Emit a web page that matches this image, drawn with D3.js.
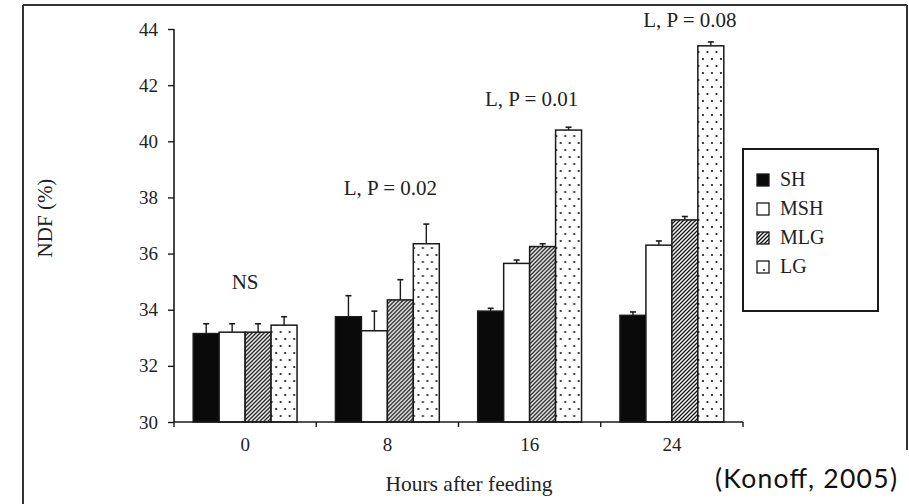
<!DOCTYPE html>
<html>
<head>
<meta charset="utf-8">
<script src="https://cdn.jsdelivr.net/npm/d3@7"></script>
<style>
  html, body { margin: 0; padding: 0; background: #fff; }
  svg { display: block; }
</style>
</head>
<body>
<svg id="chart" width="909" height="504"></svg>
<script>
// ---- data ----
const hours = ["0", "8", "16", "24"];
const series = ["SH", "MSH", "MLG", "LG"];
const SH  = [33.15, 33.75, 33.95, 33.8];
const MSH = [33.2, 33.25, 35.65, 36.3];
const MLG = [33.2, 34.35, 36.25, 37.2];
const LG  = [33.45, 36.35, 40.4, 43.4];
const SH_se  = [0.35, 0.75, 0.1, 0.12];
const MSH_se = [0.3, 0.7, 0.12, 0.15];
const MLG_se = [0.3, 0.72, 0.1, 0.12];
const LG_se  = [0.3, 0.7, 0.1, 0.14];
const yTicks = [30, 32, 34, 36, 38, 40, 42, 44];
const notes = ["NS", "L, P = 0.02", "L, P = 0.01", "L, P = 0.08"];
const noteLevel = [34.74, 38.09, 41.26, 44.07];
const yLabel = "NDF (%)";
const xLabel = "Hours after feeding";
const citation = "(Konoff, 2005)";

const values = { SH, MSH, MLG, LG };
const errs = { SH: SH_se, MSH: MSH_se, MLG: MLG_se, LG: LG_se };

// ---- layout ----
const svg = d3.select("#chart");
const serif = "'Liberation Serif', 'Times New Roman', serif";
const ink = "#1a1a1a";

const x0 = d3.scaleBand().domain(hours).range([174, 743]).paddingInner(0.27).paddingOuter(0.135);
const x1 = d3.scaleBand().domain(series).range([0, x0.bandwidth()]).padding(0);
const y = d3.scaleLinear().domain([30, 44]).range([422, 29]);

// patterns
const defs = svg.append("defs");
const hatch = defs.append("pattern").attr("id", "hatch").attr("patternUnits", "userSpaceOnUse")
  .attr("width", 4).attr("height", 4);
hatch.append("rect").attr("width", 4).attr("height", 4).attr("fill", "#fff");
hatch.append("path").attr("d", "M-1,1 l2,-2 M0,4 l4,-4 M3,5 l2,-2")
  .attr("stroke", "#111").attr("stroke-width", 1.3);

const dots = defs.append("pattern").attr("id", "dots").attr("patternUnits", "userSpaceOnUse")
  .attr("width", 9).attr("height", 14);
dots.append("rect").attr("width", 9).attr("height", 14).attr("fill", "#fff");
dots.append("circle").attr("cx", 2).attr("cy", 3).attr("r", 1.1).attr("fill", "#111");
dots.append("circle").attr("cx", 6.5).attr("cy", 10).attr("r", 1.1).attr("fill", "#111");

const fills = { SH: "#0a0a0a", MSH: "#fff", MLG: "url(#hatch)", LG: "url(#dots)" };

// outer frame
svg.append("line").attr("x1", 23).attr("x2", 907).attr("y1", 5).attr("y2", 5).attr("stroke", "#333").attr("stroke-width", 2);
svg.append("line").attr("x1", 23).attr("x2", 23).attr("y1", 5).attr("y2", 504).attr("stroke", "#333").attr("stroke-width", 2);
svg.append("line").attr("x1", 907).attr("x2", 907).attr("y1", 5).attr("y2", 450).attr("stroke", "#333").attr("stroke-width", 2);

// bars
const groups = svg.append("g").selectAll("g").data(hours).join("g")
  .attr("transform", d => `translate(${x0(d)},0)`);

groups.each(function(h, i) {
  const g = d3.select(this);
  series.forEach(s => {
    const v = values[s][i];
    const e = errs[s][i];
    const bx = x1(s);
    const cx = bx + x1.bandwidth() / 2;
    g.append("line").attr("x1", cx).attr("x2", cx).attr("y1", y(v)).attr("y2", y(v + e))
      .attr("stroke", ink).attr("stroke-width", 1.4);
    g.append("line").attr("x1", cx - 3).attr("x2", cx + 3).attr("y1", y(v + e)).attr("y2", y(v + e))
      .attr("stroke", ink).attr("stroke-width", 1.6);
    g.append("rect").attr("x", bx).attr("y", y(v)).attr("width", x1.bandwidth()).attr("height", y(30) - y(v))
      .attr("fill", fills[s]).attr("stroke", ink).attr("stroke-width", 1.5);
  });
});

// y axis
const yAxis = svg.append("g").attr("transform", "translate(174,0)")
  .call(d3.axisLeft(y).tickValues(yTicks).tickSize(6).tickPadding(10).tickFormat(d3.format("d")));
yAxis.select(".domain").attr("stroke", ink).attr("stroke-width", 1.6).attr("d", `M0,${y(44)}V${y(30)}`);
yAxis.selectAll(".tick line").attr("stroke", ink).attr("stroke-width", 1.4);
yAxis.selectAll(".tick text").attr("font-family", serif).attr("font-size", 19).attr("fill", "#222");

// x axis
const xAxis = svg.append("g").attr("transform", `translate(0,${y(30)})`)
  .call(d3.axisBottom(x0).tickSize(0).tickPadding(16));
xAxis.select(".domain").attr("stroke", ink).attr("stroke-width", 1.6).attr("d", `M174,0H743`);
xAxis.selectAll(".tick text").attr("font-family", serif).attr("font-size", 19).attr("fill", "#222");
const halfGap = x0.step() * x0.paddingInner() / 2;
const bounds = hours.map(h => x0(h) - halfGap).concat([743]);
xAxis.selectAll("line.bound").data(bounds).join("line").attr("class", "bound")
  .attr("x1", d => d).attr("x2", d => d).attr("y1", 0).attr("y2", 5)
  .attr("stroke", ink).attr("stroke-width", 1.4);

// annotations
const noteDx = [0, 3, 2, 18];
svg.append("g").selectAll("text").data(notes).join("text")
  .attr("x", (d, i) => x0(hours[i]) + x0.bandwidth() / 2 + noteDx[i])
  .attr("y", (d, i) => y(noteLevel[i]))
  .attr("text-anchor", "middle").attr("font-family", serif).attr("font-size", 21).attr("fill", "#222")
  .text(d => d);

// axis titles
svg.append("text").attr("transform", "translate(52,218) rotate(-90)")
  .attr("text-anchor", "middle").attr("font-family", serif).attr("font-size", 21).attr("fill", "#222")
  .text(yLabel);
svg.append("text").attr("x", 469).attr("y", 491)
  .attr("text-anchor", "middle").attr("font-family", serif).attr("font-size", 21.5).attr("fill", "#222")
  .text(xLabel);

// legend
const lg = svg.append("g");
lg.append("rect").attr("x", 743).attr("y", 149).attr("width", 135).attr("height", 162)
  .attr("fill", "#fff").attr("stroke", ink).attr("stroke-width", 2);
const legFill = { SH: "#0a0a0a", MSH: "#fff", MLG: "url(#hatch)", LG: "#fff" };
series.forEach((s, i) => {
  const cy = 180 + i * 29;
  lg.append("rect").attr("x", 757).attr("y", cy - 6).attr("width", 12).attr("height", 12)
    .attr("fill", legFill[s]).attr("stroke", ink).attr("stroke-width", 1.3);
  if (s === "LG") lg.append("circle").attr("cx", 764).attr("cy", cy + 3).attr("r", 1).attr("fill", ink);
  lg.append("text").attr("x", 780).attr("y", cy + 6).attr("font-family", serif).attr("font-size", 20)
    .attr("fill", "#222").text(s);
});

// citation
svg.append("text").attr("x", 715).attr("y", 488)
  .attr("font-family", "Lato, 'Open Sans', sans-serif").attr("font-size", 26.5).attr("fill", "#111")
  .attr("textLength", 182).attr("lengthAdjust", "spacing")
  .text(citation);
</script>
</body>
</html>
